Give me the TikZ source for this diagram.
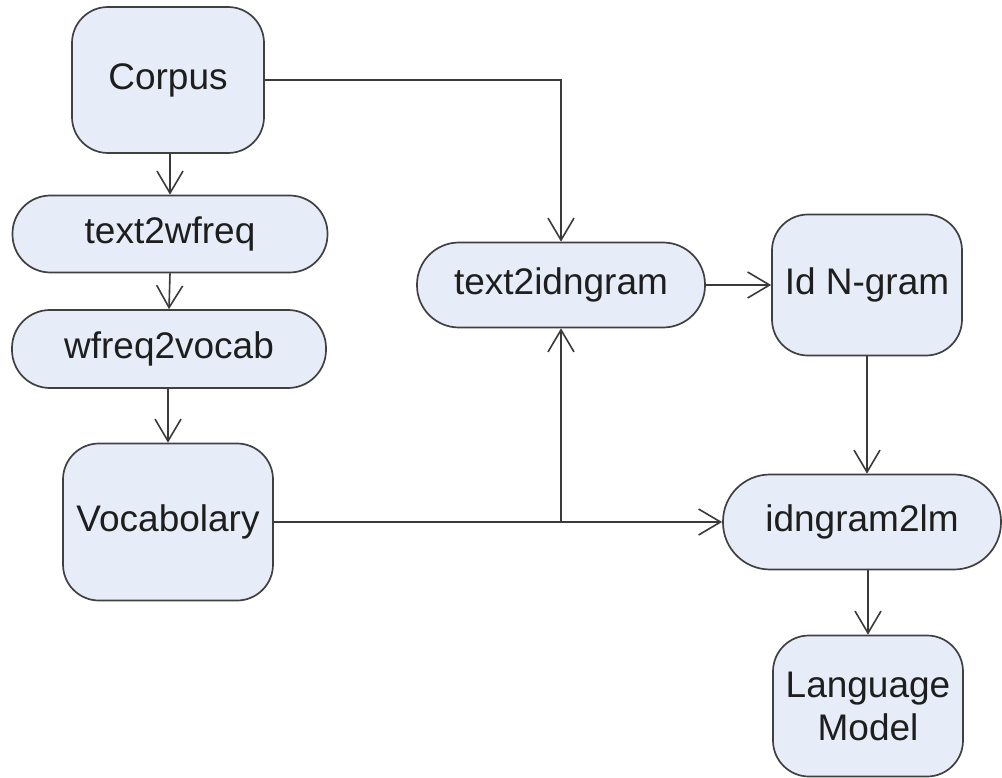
\documentclass[tikz,border=0pt]{standalone}
\usepackage{fontspec}
\setmainfont{Liberation Sans}
\usetikzlibrary{arrows.meta}
\definecolor{boxfill}{RGB}{231,237,248}
\definecolor{boxline}{RGB}{64,64,64}
\definecolor{wire}{RGB}{58,58,58}
\definecolor{ink}{RGB}{30,30,30}
\begin{document}
\begin{tikzpicture}[x=1pt,y=-1pt,
  box/.style={draw=boxline, fill=boxfill, line width=1.7pt, inner sep=0pt,
    text=ink, align=center, font=\fontsize{37}{43}\selectfont},
  bigbox/.style={box, rounded corners=36pt},
  pill/.style={box, rounded corners=#1},
  wireline/.style={draw=wire, line width=1.6pt},
  flow/.style={wireline, -{Straight Barb[length=22pt,width=26pt,line width=1.6pt]}}]
\useasboundingbox (0,0) rectangle (1002,778);

% left column
\node[bigbox, minimum width=192pt, minimum height=146pt] (corpus) at (168,80) {Corpus};
\node[pill=38pt, minimum width=315pt, minimum height=77pt] (t2w) at (170,234) {text2wfreq};
\node[pill=38pt, minimum width=314pt, minimum height=78pt] (w2v) at (169,349) {wfreq2vocab};
\node[bigbox, minimum width=210pt, minimum height=157pt] (vocab) at (168,522) {Vocabolary};

% middle and right
\node[pill=42pt, minimum width=288pt, minimum height=85pt] (t2i) at (561,285) {text2idngram};
\node[bigbox, minimum width=190pt, minimum height=141pt] (ngram) at (867,285) {Id N-gram};
\node[pill=47pt, minimum width=278pt, minimum height=95pt] (i2lm) at (862,522) {idngram2lm};
\node[bigbox, minimum width=190pt, minimum height=141pt] (lm) at (868,706) {Language\\Model};

% connectors
\draw[flow] (corpus.south -| t2w.north) -- (t2w.north);
\draw[flow] (t2w.south) -- (w2v.north);
\draw[flow] (w2v.south -| vocab.north) -- (vocab.north);
\draw[flow] (corpus.east) -- (corpus.east -| t2i.north) -- (t2i.north);
\draw[flow] (vocab.east) -- (vocab.east -| i2lm.west);
\coordinate (junction) at (vocab.east -| t2i.south);
\draw[flow] (junction) -- (t2i.south);
\draw[flow] (t2i.east) -- (ngram.west);
\draw[flow] (ngram.south) -- (ngram.south |- i2lm.north);
\draw[flow] (i2lm.south -| lm.north) -- (lm.north);
\end{tikzpicture}
\end{document}
